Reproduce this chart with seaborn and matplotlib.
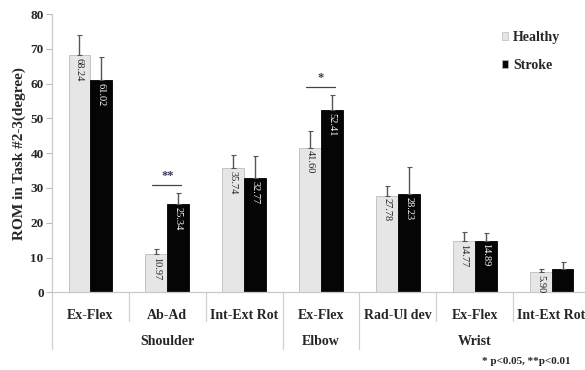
import numpy as np
import pandas as pd
import seaborn as sns
import matplotlib.pyplot as plt
from matplotlib.transforms import blended_transform_factory

# Range of motion per joint movement, mean and upper SD
joints = ["Shoulder", "Shoulder", "Shoulder", "Elbow", "Wrist", "Wrist", "Wrist"]
motions = ["Ex-Flex", "Ab-Ad", "Int-Ext Rot", "Ex-Flex", "Rad-Ul dev", "Ex-Flex", "Int-Ext Rot"]
healthy = [68.24, 10.97, 35.74, 41.60, 27.78, 14.77, 5.90]
stroke = [61.02, 25.34, 32.77, 52.41, 28.23, 14.89, 6.65]
healthy_sd = [5.7, 1.6, 3.7, 4.9, 2.9, 2.7, 0.9]
stroke_sd = [6.5, 3.3, 6.4, 4.4, 7.8, 2.1, 2.0]
groups = ["Healthy", "Stroke"]
significance = {1: "**", 3: "*"}
joint_names = ["Shoulder", "Elbow", "Wrist"]
yticks = [0, 10, 20, 30, 40, 50, 60, 70, 80]

slots = [f"{j} {m}" for j, m in zip(joints, motions)]
df = pd.DataFrame({
    "slot": slots * 2,
    "rom": healthy + stroke,
    "sd": healthy_sd + stroke_sd,
    "group": [groups[0]] * len(slots) + [groups[1]] * len(slots),
})

sns.set_style("white")
plt.rcParams["font.family"] = ["Liberation Serif", "DejaVu Serif"]
plt.rcParams["font.weight"] = "bold"

fig = plt.figure(figsize=(5.85, 3.70), dpi=100)
ax = fig.add_axes([52 / 585, 0.21, 538 / 585, 0.752])

colors = {"Healthy": "#e6e6e6", "Stroke": "#050505"}
sns.barplot(data=df, x="slot", y="rom", hue="group", order=slots,
            hue_order=groups, palette=colors, width=0.57, gap=0,
            errorbar=None, ax=ax, legend=True)

edge = {"Healthy": "#bdbdbd", "Stroke": "#000000"}
text_color = {"Healthy": "#222222", "Stroke": "white"}
for g, cont in zip(groups, ax.containers):
    sub = df[df["group"] == g]
    for k, (bar, val, sd) in enumerate(zip(cont, sub["rom"], sub["sd"])):
        bar.set_edgecolor(edge[g])
        bar.set_linewidth(0.6)
        xc = bar.get_x() + bar.get_width() / 2
        ax.errorbar(xc, val, yerr=[[0], [sd]], fmt="none", ecolor="#555555",
                    elinewidth=1.0, capsize=1.8, capthick=0.8, zorder=3)
        tc = text_color[g] if not (g == "Stroke" and k == len(slots) - 1) else "#050505"
        ax.annotate(f"{val:.2f}", xy=(xc, val), xytext=(0, -2.0),
                    textcoords="offset points", rotation=270, ha="center",
                    va="top", fontsize=7.5, color=tc, fontweight="normal")

# significance brackets
for k, mark in significance.items():
    top = max(healthy[k] + healthy_sd[k], stroke[k] + stroke_sd[k])
    yb = top + 2.2
    ax.plot([k - 0.2, k + 0.18], [yb, yb], color="#444444", lw=0.9)
    ax.text(k, yb + 1.0, mark, ha="center", va="bottom", fontsize=9,
            color="#3a3a55")

ax.set_ylim(0, 80)
ax.set_xlim(-0.5, 6.5)
ax.set_yticks(yticks)
ax.tick_params(axis="y", which="both", left=True, length=4, width=0.8,
               color="#bbbbbb", labelsize=9.5, pad=2)
ax.tick_params(axis="x", length=0, labelsize=10, pad=12)
ax.set_xticks(range(len(slots)))
ax.set_xticklabels(motions, fontweight="bold")
for t in ax.get_yticklabels():
    t.set_fontweight("bold")
ax.set_xlabel("")
ax.set_ylabel("ROM in Task #2-3(degree)", fontsize=11, fontweight="bold",
              labelpad=3)

for s in ["top", "right"]:
    ax.spines[s].set_visible(False)
for s in ["left", "bottom"]:
    ax.spines[s].set_color("#c8c8c8")
    ax.spines[s].set_linewidth(0.9)

# category dividers and joint dividers below the axis
trans = blended_transform_factory(ax.transData, ax.transAxes)
ax_h_px = 0.752 * 370
joint_bounds = [-0.5]
for k in range(1, len(joints)):
    if joints[k] != joints[k - 1]:
        joint_bounds.append(k - 0.5)
for k in range(len(slots) + 1):
    xb = k - 0.5
    depth = 57 if xb in joint_bounds else 29
    ax.plot([xb, xb], [0, -depth / ax_h_px], transform=trans, color="#d0d0d0",
            lw=0.9, clip_on=False)

# joint labels
starts = joint_bounds + [len(slots) - 0.5]
for name, a, b in zip(joint_names, starts[:-1], starts[1:]):
    ax.text((a + b) / 2, -49 / ax_h_px, name, transform=trans, ha="center",
            va="center", fontsize=10, fontweight="bold")

leg = ax.legend(loc="upper left", bbox_to_anchor=(0.813, 0.985), frameon=False,
                handlelength=0.45, handleheight=0.45, handletextpad=0.35,
                labelspacing=1.1, prop={"size": 10, "weight": "bold"})
for h in leg.legend_handles:
    h.set_edgecolor("#bbbbbb")
    h.set_linewidth(0.5)

fig.text(0.976, 0.024, "* p<0.05, **p<0.01", ha="right", va="center",
         fontsize=8, fontweight="bold")

fig.savefig("out.png", dpi=100, facecolor="white")
